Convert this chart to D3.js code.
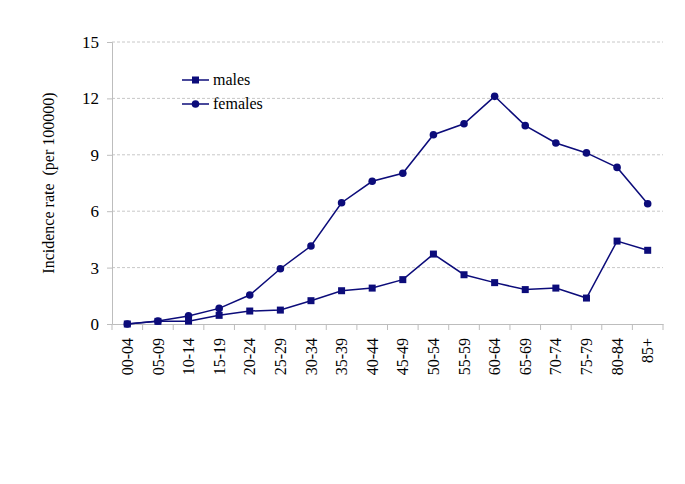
<!DOCTYPE html>
<meta charset="utf-8" />
<script src="https://d3js.org/d3.v7.min.js"></script>
<body style="margin:0;background:#fff">
  <div id="my_dataviz"></div>
  <script>
    // age groups and rates (per 100000)
    var ageGroups = ["00-04", "05-09", "10-14", "15-19", "20-24", "25-29", "30-34", "35-39", "40-44",
      "45-49", "50-54", "55-59", "60-64", "65-69", "70-74", "75-79", "80-84", "85+"];
    var males = [0, 0.14, 0.15, 0.46, 0.69, 0.74, 1.24, 1.77, 1.91, 2.36, 3.72, 2.62, 2.2, 1.83, 1.91, 1.38, 4.41, 3.92];
    var females = [0, 0.16, 0.43, 0.83, 1.54, 2.94, 4.15, 6.45, 7.59, 8.02, 10.07, 10.65, 12.11, 10.55, 9.63, 9.1, 8.33, 6.4];
    var yTicks = [0, 3, 6, 9, 12, 15];

    var serif = "'Liberation Serif', 'Times New Roman', serif";
    var margin = { top: 42, right: 22, bottom: 160, left: 112 },
      width = 685 - margin.left - margin.right,
      height = 484 - margin.top - margin.bottom;

    var svg = d3.select("#my_dataviz")
      .append("svg")
      .attr("width", 685)
      .attr("height", 484)
      .style("font-family", serif)
      .append("g")
      .attr("transform", "translate(" + margin.left + "," + margin.top + ")");

    var x = d3.scaleBand().domain(ageGroups).range([0, width]);
    var y = d3.scaleLinear().domain([0, 15]).range([height, 0]);
    var navy = "#0c0c7a";

    // grid lines
    svg.append("g")
      .selectAll("line")
      .data(yTicks.filter(function (d) { return d > 0; }))
      .enter()
      .append("line")
      .attr("x1", 0)
      .attr("x2", width)
      .attr("y1", function (d) { return y(d); })
      .attr("y2", function (d) { return y(d); })
      .attr("stroke", "#c8c8c8")
      .attr("stroke-dasharray", "3,2");

    // Y axis
    var yAxis = svg.append("g")
      .call(d3.axisLeft(y).tickValues(yTicks).tickSize(5).tickPadding(8))
      .attr("font-family", serif);
    yAxis.selectAll("text").style("font-size", "17px").attr("fill", "#000");
    yAxis.selectAll("line, path").attr("stroke", "#bdbdbd");

    // X axis, ticks at band edges
    var xAxis = svg.append("g")
      .attr("transform", "translate(0," + height + ")")
      .call(d3.axisBottom(x).tickSize(0).tickPadding(14))
      .attr("font-family", serif);
    xAxis.select("path").attr("stroke", "#bdbdbd");
    xAxis.selectAll("text")
      .style("font-size", "16px")
      .style("font-family", serif)
      .attr("fill", "#000")
      .attr("transform", "rotate(-90)")
      .attr("dy", "0.35em")
      .attr("x", -14)
      .attr("y", 0)
      .style("text-anchor", "end");
    svg.append("g")
      .selectAll("line")
      .data(ageGroups.concat([null]))
      .enter()
      .append("line")
      .attr("x1", function (d, i) { return i * x.bandwidth(); })
      .attr("x2", function (d, i) { return i * x.bandwidth(); })
      .attr("y1", height)
      .attr("y2", height + 6)
      .attr("stroke", "#bdbdbd");

    // y label
    svg.append("text")
      .attr("transform", "rotate(-90)")
      .attr("x", -(y(0) + y(15)) / 2)
      .attr("y", -58)
      .attr("text-anchor", "middle")
      .style("font-size", "16px")
      .style("white-space", "pre")
      .text("Incidence rate  (per 100000)");

    var line = d3.line()
      .x(function (d, i) { return x(ageGroups[i]) + x.bandwidth() / 2; })
      .y(function (d) { return y(d); });

    svg.append("path").datum(females).attr("d", line)
      .attr("fill", "none").attr("stroke", navy).attr("stroke-width", 1.5);
    svg.append("path").datum(males).attr("d", line)
      .attr("fill", "none").attr("stroke", navy).attr("stroke-width", 1.5);

    svg.selectAll("circle.fem")
      .data(females)
      .enter()
      .append("circle")
      .attr("cx", function (d, i) { return x(ageGroups[i]) + x.bandwidth() / 2; })
      .attr("cy", function (d) { return y(d); })
      .attr("r", 3.8)
      .attr("fill", navy);

    svg.selectAll("rect.mal")
      .data(males)
      .enter()
      .append("rect")
      .attr("x", function (d, i) { return x(ageGroups[i]) + x.bandwidth() / 2 - 3.5; })
      .attr("y", function (d) { return y(d) - 3.5; })
      .attr("width", 7)
      .attr("height", 7)
      .attr("fill", navy);

    // legend
    var legend = svg.append("g").attr("transform", "translate(70,38)");
    legend.append("line").attr("x1", 0).attr("x2", 27).attr("y1", 0).attr("y2", 0)
      .attr("stroke", navy).attr("stroke-width", 1.5);
    legend.append("rect").attr("x", 10).attr("y", -3.5).attr("width", 7).attr("height", 7).attr("fill", navy);
    legend.append("text").attr("x", 31).attr("y", 5).style("font-size", "16px").text("males");
    legend.append("line").attr("x1", 0).attr("x2", 27).attr("y1", 24).attr("y2", 24)
      .attr("stroke", navy).attr("stroke-width", 1.5);
    legend.append("circle").attr("cx", 13.5).attr("cy", 24).attr("r", 3.8).attr("fill", navy);
    legend.append("text").attr("x", 31).attr("y", 29).style("font-size", "16px").text("females");
  </script>
</body>
